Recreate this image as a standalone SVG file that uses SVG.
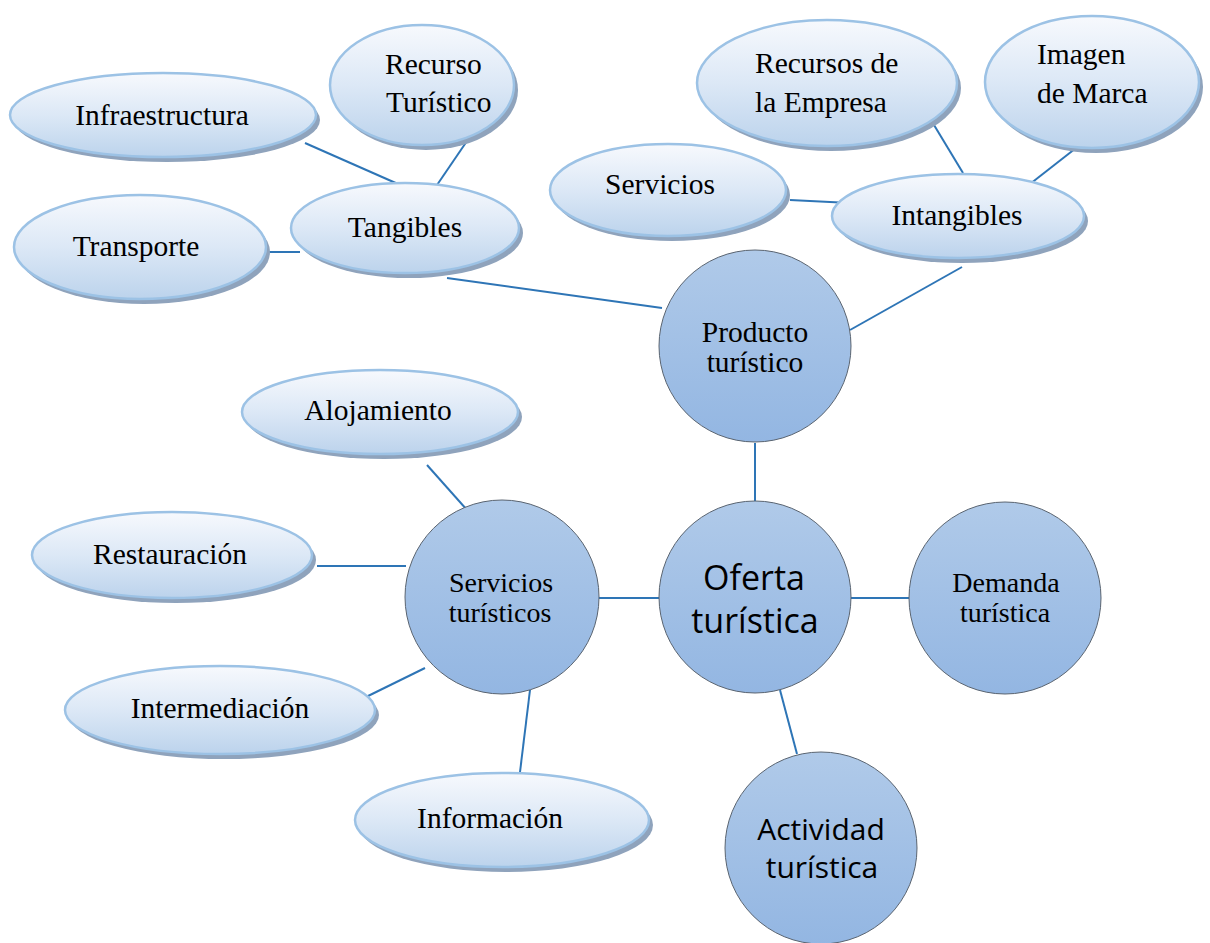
<svg xmlns="http://www.w3.org/2000/svg" width="1210" height="943" viewBox="0 0 1210 943">
<defs>
<linearGradient id="eg" x1="0" y1="0" x2="0" y2="1">
<stop offset="0" stop-color="#f7f9fd"/>
<stop offset="0.5" stop-color="#dce8f6"/>
<stop offset="1" stop-color="#bcd3ec"/>
</linearGradient>
<linearGradient id="cg" x1="0" y1="0" x2="0" y2="1">
<stop offset="0" stop-color="#b0cae9"/>
<stop offset="1" stop-color="#93b6e2"/>
</linearGradient>
<style>
.sh{fill:#8fa3bc}
.el{fill:url(#eg);stroke:#9cc2e5;stroke-width:2.5}
.ci{fill:url(#cg);stroke:#5a6470;stroke-width:1}
.t{font-family:"Liberation Serif",serif;font-size:29.5px;fill:#000}
.u{font-family:"Liberation Serif",serif;font-size:28px;fill:#000}
.p{font-family:"Liberation Serif",serif;font-size:29.5px;fill:#000}
.s{font-family:"Open Sans","Liberation Sans",sans-serif;font-size:34px;fill:#000}
.a{font-family:"Open Sans","Liberation Sans",sans-serif;font-size:30px;fill:#000}
.c{text-anchor:middle}
.ln{stroke:#2e75b6;stroke-width:2;fill:none}
</style>
</defs>
<g id="connectors">
<line class="ln" x1="305" y1="143" x2="398" y2="184"/>
<line class="ln" x1="467" y1="141" x2="437" y2="185"/>
<line class="ln" x1="266" y1="252" x2="300" y2="252"/>
<line class="ln" x1="447" y1="278" x2="662" y2="308"/>
<line class="ln" x1="934" y1="125" x2="963" y2="173"/>
<line class="ln" x1="1085" y1="141" x2="1030" y2="184"/>
<line class="ln" x1="790" y1="200" x2="850" y2="203"/>
<line class="ln" x1="962" y1="267" x2="850" y2="330"/>
<line class="ln" x1="755" y1="443" x2="755" y2="501"/>
<line class="ln" x1="427" y1="465" x2="467" y2="510"/>
<line class="ln" x1="317" y1="566" x2="406" y2="566"/>
<line class="ln" x1="366" y1="697" x2="425" y2="668"/>
<line class="ln" x1="520" y1="772" x2="530" y2="690"/>
<line class="ln" x1="599" y1="598" x2="659" y2="598"/>
<line class="ln" x1="851" y1="598" x2="909" y2="598"/>
<line class="ln" x1="780" y1="690" x2="797" y2="754"/>
</g>
<g id="infraestructura">
<ellipse class="sh" cx="167" cy="120" rx="153" ry="42"/>
<ellipse class="el" cx="163" cy="115" rx="153" ry="42"/>
<text class="t c" x="162" y="125">Infraestructura</text>
</g>
<g id="recurso-turistico">
<ellipse class="sh" cx="426" cy="90" rx="92" ry="60"/>
<ellipse class="el" cx="422" cy="85" rx="92" ry="60"/>
<text class="t" x="385" y="74">Recurso</text>
<text class="t" x="386" y="112">Turístico</text>
</g>
<g id="transporte">
<ellipse class="sh" cx="144" cy="252" rx="126" ry="52"/>
<ellipse class="el" cx="140" cy="247" rx="126" ry="52"/>
<text class="t c" x="136" y="256">Transporte</text>
</g>
<g id="tangibles">
<ellipse class="sh" cx="409" cy="233" rx="114" ry="45"/>
<ellipse class="el" cx="405" cy="228" rx="114" ry="45"/>
<text class="t c" x="405" y="237">Tangibles</text>
</g>
<g id="recursos-empresa">
<ellipse class="sh" cx="831" cy="88" rx="130" ry="63"/>
<ellipse class="el" cx="827" cy="83" rx="130" ry="63"/>
<text class="t" x="755" y="73">Recursos de</text>
<text class="t" x="755" y="112">la Empresa</text>
</g>
<g id="imagen-marca">
<ellipse class="sh" cx="1096" cy="87" rx="107" ry="66"/>
<ellipse class="el" cx="1092" cy="82" rx="107" ry="66"/>
<text class="t" x="1037" y="64">Imagen</text>
<text class="t" x="1037" y="103">de Marca</text>
</g>
<g id="servicios">
<ellipse class="sh" cx="672" cy="195" rx="118" ry="46"/>
<ellipse class="el" cx="668" cy="190" rx="118" ry="46"/>
<text class="t c" x="660" y="194">Servicios</text>
</g>
<g id="intangibles">
<ellipse class="sh" cx="962" cy="221" rx="126" ry="42"/>
<ellipse class="el" cx="958" cy="216" rx="126" ry="42"/>
<text class="t c" x="957" y="225">Intangibles</text>
</g>
<g id="alojamiento">
<ellipse class="sh" cx="384" cy="417" rx="138" ry="42"/>
<ellipse class="el" cx="380" cy="412" rx="138" ry="42"/>
<text class="t c" x="378" y="420">Alojamiento</text>
</g>
<g id="restauracion">
<ellipse class="sh" cx="176" cy="560" rx="140" ry="43"/>
<ellipse class="el" cx="172" cy="555" rx="140" ry="43"/>
<text class="t c" x="170" y="564">Restauración</text>
</g>
<g id="intermediacion">
<ellipse class="sh" cx="224" cy="715" rx="155" ry="44"/>
<ellipse class="el" cx="220" cy="710" rx="155" ry="44"/>
<text class="t c" x="220" y="718">Intermediación</text>
</g>
<g id="informacion">
<ellipse class="sh" cx="506" cy="825" rx="147" ry="47"/>
<ellipse class="el" cx="502" cy="820" rx="147" ry="47"/>
<text class="t c" x="490" y="828">Información</text>
</g>
<g id="producto-turistico">
<circle class="ci" cx="755" cy="346" r="96"/>
<text class="p c" x="755" y="342">Producto</text>
<text class="p c" x="755" y="372">turístico</text>
</g>
<g id="oferta-turistica">
<circle class="ci" cx="755" cy="597" r="96"/>
<text class="s c" x="754" y="590">Oferta</text>
<text class="s c" x="755" y="633">turística</text>
</g>
<g id="demanda-turistica">
<circle class="ci" cx="1005" cy="598" r="96"/>
<text class="u c" x="1006" y="592">Demanda</text>
<text class="u c" x="1005" y="622">turística</text>
</g>
<g id="servicios-turisticos">
<circle class="ci" cx="502" cy="597" r="97"/>
<text class="u c" x="501" y="592">Servicios</text>
<text class="u c" x="500" y="622">turísticos</text>
</g>
<g id="actividad-turistica">
<circle class="ci" cx="821" cy="848" r="96"/>
<text class="a c" x="821" y="840">Actividad</text>
<text class="a c" x="822" y="878">turística</text>
</g>
</svg>
